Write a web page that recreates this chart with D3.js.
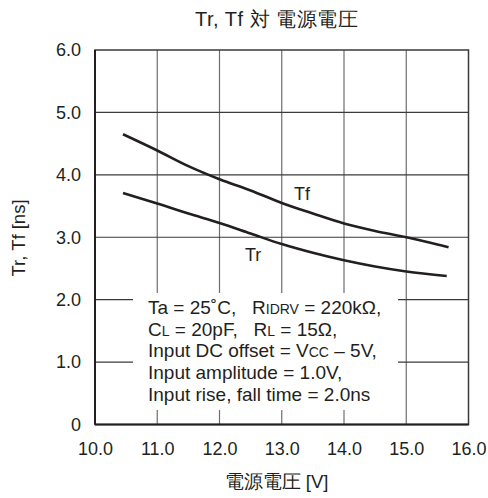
<!DOCTYPE html>
<html>
<head>
<meta charset="utf-8">
<script src="https://d3js.org/d3.v7.min.js"></script>
<style>
  body { margin: 0; background: #fff; }
  svg { display: block; }
  text { font-family: "Liberation Sans", Arial, Helvetica, sans-serif; fill: #231f20; white-space: pre; }
</style>
</head>
<body>
<script>
// Data
const title = "Tr, Tf 対 電源電圧";
const xLabel = "電源電圧 [V]";
const yLabel = "Tr, Tf [ns]";
const xTicks = [10.0, 11.0, 12.0, 13.0, 14.0, 15.0, 16.0];
const yTicks = [0, 1.0, 2.0, 3.0, 4.0, 5.0, 6.0];
const tfVcc = [10.45, 11.0, 11.5, 12.0, 12.5, 13.0, 13.5, 14.0, 14.5, 15.0, 15.68];
const tfVal = [4.65, 4.39, 4.14, 3.93, 3.75, 3.55, 3.38, 3.22, 3.10, 3.00, 2.84];
const trVcc = [10.45, 11.0, 11.5, 12.0, 12.5, 13.0, 13.5, 14.0, 14.5, 15.0, 15.65];
const trVal = [3.71, 3.54, 3.38, 3.23, 3.06, 2.89, 2.75, 2.63, 2.53, 2.45, 2.38];
const conditions = [
  ["Ta = 25˚C,   R", "IDRV", " = 220kΩ,"],
  ["C", "L", " = 20pF,   R", "L", " = 15Ω,"],
  ["Input DC offset = V", "CC", " – 5V,"],
  ["Input amplitude = 1.0V,"],
  ["Input rise, fall time = 2.0ns"]
];

const W = 488, H = 498;
const svg = d3.select("body").append("svg").attr("width", W).attr("height", H);

const x = d3.scaleLinear().domain([10, 16]).range([95, 468.5]);
const y = d3.scaleLinear().domain([0, 6]).range([424.5, 50]);

// grid
const g = svg.append("g");
g.selectAll("line.v").data(xTicks.slice(1, -1)).join("line")
  .attr("x1", d => x(d)).attr("x2", d => x(d))
  .attr("y1", y(0)).attr("y2", y(6))
  .attr("stroke", "#6d6e70").attr("stroke-width", 1.2);
g.selectAll("line.h").data(yTicks.slice(1, -1)).join("line")
  .attr("x1", x(10)).attr("x2", x(16))
  .attr("y1", d => y(d)).attr("y2", d => y(d))
  .attr("stroke", "#3a3a3c").attr("stroke-width", 1.2);

// annotation box background (white)
svg.append("rect").attr("x", 133).attr("y", 293).attr("width", 265).attr("height", 117).attr("fill", "#fff");

// frame
svg.append("rect").attr("x", x(10)).attr("y", y(6))
  .attr("width", x(16) - x(10)).attr("height", y(0) - y(6))
  .attr("fill", "none").attr("stroke", "#3a3a3c").attr("stroke-width", 1.5);
svg.append("line").attr("x1", x(10)).attr("x2", x(10)).attr("y1", y(0)).attr("y2", y(6))
  .attr("stroke", "#231f20").attr("stroke-width", 2);
svg.append("line").attr("x1", x(10)).attr("x2", x(16)).attr("y1", y(0)).attr("y2", y(0))
  .attr("stroke", "#231f20").attr("stroke-width", 2);

// axes labels via d3 axes
const xAxis = d3.axisBottom(x).tickValues(xTicks).tickFormat(d3.format(".1f")).tickSize(0).tickPadding(18);
const xa = svg.append("g").attr("transform", `translate(0,${y(0)})`).call(xAxis);
xa.select(".domain").remove();
xa.selectAll("text").style("font-size", "18px").attr("fill", "#231f20");

const yFmt = d => d === 0 ? "0" : d3.format(".1f")(d);
const yAxis = d3.axisLeft(y).tickValues(yTicks).tickFormat(yFmt).tickSize(0).tickPadding(14);
const ya = svg.append("g").attr("transform", `translate(${x(10)},0)`).call(yAxis);
ya.select(".domain").remove();
ya.selectAll("text").style("font-size", "18px").attr("fill", "#231f20");

// curves
const line = d3.line().curve(d3.curveMonotoneX).x(d => x(d[0])).y(d => y(d[1]));
svg.append("path").datum(d3.zip(tfVcc, tfVal)).attr("d", line)
  .attr("fill", "none").attr("stroke", "#231f20").attr("stroke-width", 2.6);
svg.append("path").datum(d3.zip(trVcc, trVal)).attr("d", line)
  .attr("fill", "none").attr("stroke", "#231f20").attr("stroke-width", 2.6);

svg.append("text").attr("x", 294).attr("y", 200).style("font-size", "18px").text("Tf");
svg.append("text").attr("x", 245).attr("y", 261).style("font-size", "18px").text("Tr");

// conditions text
conditions.forEach((parts, i) => {
  const t = svg.append("text").attr("x", 148).attr("y", 314 + i * 21.7).style("font-size", "19px");
  parts.forEach((p, j) => {
    const sub = j % 2 === 1;
    t.append("tspan").style("font-size", sub ? "14px" : "19px").text(p);
  });
});

// titles
svg.append("text").attr("x", 276.5).attr("y", 26).attr("text-anchor", "middle")
  .style("font-size", "20px").style("letter-spacing", "0.5px").text(title);
svg.append("text").attr("x", 276.5).attr("y", 488).attr("text-anchor", "middle")
  .style("font-size", "18.5px").text(xLabel);
svg.append("text").attr("transform", "translate(25,238) rotate(-90)").attr("text-anchor", "middle")
  .style("font-size", "18.5px").text(yLabel);
</script>
</body>
</html>
